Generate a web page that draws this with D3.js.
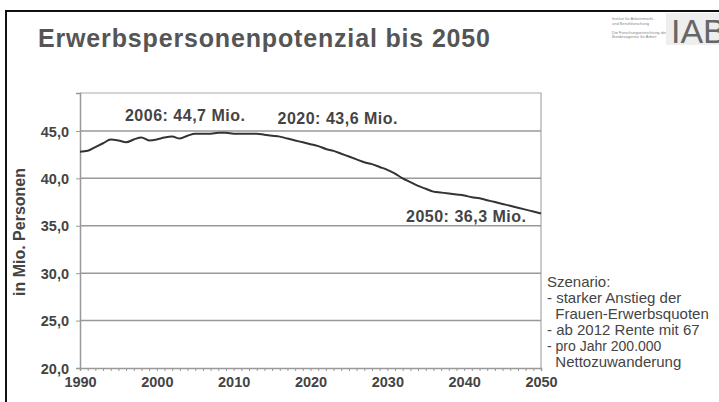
<!DOCTYPE html>
<html>
<head>
<meta charset="utf-8">
<script src="https://cdn.jsdelivr.net/npm/d3@7"></script>
<style>
  body { margin: 0; background: #fff; }
  svg { display: block; font-family: "Liberation Sans", Arial, sans-serif; }
</style>
</head>
<body>
<div id="chart"></div>
<script>
const years = d3.range(1990, 2051);
const values = [
  42.8, 42.9, 43.3, 43.7, 44.1, 44.0, 43.8, 44.1, 44.3, 44.0,
  44.1, 44.3, 44.4, 44.2, 44.5, 44.7, 44.7, 44.7, 44.8, 44.8,
  44.7, 44.7, 44.7, 44.7, 44.6, 44.5, 44.4, 44.2, 44.0, 43.8,
  43.6, 43.4, 43.1, 42.9, 42.6, 42.3, 42.0, 41.7, 41.5, 41.2,
  40.9, 40.5, 40.0, 39.6, 39.2, 38.9, 38.6, 38.5, 38.4, 38.3,
  38.2, 38.0, 37.9, 37.7, 37.5, 37.3, 37.1, 36.9, 36.7, 36.5,
  36.3
];
const yTicks = [20, 25, 30, 35, 40, 45];
const xTicks = [1990, 2000, 2010, 2020, 2030, 2040, 2050];
const notes = [
  { year: 2006, label: '2006: 44,7 Mio.' },
  { year: 2020, label: '2020: 43,6 Mio.' },
  { year: 2050, label: '2050: 36,3 Mio.' }
];
const scenario = [
  'Szenario:',
  '- starker Anstieg der',
  '  Frauen-Erwerbsquoten',
  '- ab 2012 Rente mit 67',
  '- pro Jahr 200.000',
  '  Nettozuwanderung'
];

const W = 719, H = 402;
const plot = { left: 80, right: 541, top: 93, bottom: 368 };

const svg = d3.select('#chart').append('svg')
  .attr('width', W)
  .attr('height', H);

// slide frame
svg.append('path')
  .attr('d', `M6,${H} V11 H${W}`)
  .attr('fill', 'none')
  .attr('stroke', '#111')
  .attr('stroke-width', 2);

svg.append('text')
  .attr('x', 38).attr('y', 47)
  .attr('font-size', 25).attr('font-weight', 'bold')
  .attr('fill', '#555')
  .attr('textLength', 452)
  .text('Erwerbspersonenpotenzial bis 2050');

// logo
const logo = svg.append('g').attr('fill', '#888');
['Institut für Arbeitsmarkt-', 'und Berufsforschung', '', 'Die Forschungseinrichtung der', 'Bundesagentur für Arbeit']
  .forEach((t, i) => logo.append('text')
    .attr('x', 612).attr('y', 20 + i * 4.5)
    .attr('font-size', 4).text(t));
svg.append('rect').attr('x', 666).attr('y', 13).attr('width', 53).attr('height', 32).attr('fill', '#eee');
svg.append('text')
  .attr('x', 671).attr('y', 43)
  .attr('font-size', 34).attr('fill', '#666')
  .text('IAB');

const x = d3.scaleLinear().domain([1990, 2050]).range([plot.left, plot.right]);
const y = d3.scaleLinear().domain([20, 49]).range([plot.bottom, plot.top]);
const fmt = d => d.toFixed(1).replace('.', ',');

// plot box
svg.append('path')
  .attr('d', `M${plot.left},${plot.top} H${plot.right} V${plot.bottom}`)
  .attr('fill', 'none').attr('stroke', '#aaa').attr('stroke-width', 1.2);

// gridlines
svg.append('g')
  .selectAll('line')
  .data(yTicks.slice(1))
  .join('line')
  .attr('x1', plot.left).attr('x2', plot.right)
  .attr('y1', d => y(d)).attr('y2', d => y(d))
  .attr('stroke', '#999').attr('stroke-width', 1.5);

const yAxis = svg.append('g')
  .attr('transform', `translate(${plot.left},0)`)
  .call(d3.axisLeft(y).tickValues(yTicks).tickFormat(fmt).tickSize(4).tickPadding(7));
const xAxis = svg.append('g')
  .attr('transform', `translate(0,${plot.bottom})`)
  .call(d3.axisBottom(x).tickValues(years).tickFormat(d => xTicks.includes(d) ? d : '').tickSize(3).tickPadding(6));

[yAxis, xAxis].forEach(a => {
  a.select('.domain').attr('stroke', '#999').attr('stroke-width', 1.5);
  a.selectAll('.tick line').attr('stroke', '#999');
  a.selectAll('text')
    .attr('font-family', '"Liberation Sans", Arial, sans-serif')
    .attr('font-size', 14.5).attr('font-weight', 'bold').attr('fill', '#444');
});
yAxis.selectAll('text').attr('dy', '0.35em');

svg.append('text')
  .attr('transform', 'translate(25,232) rotate(-90)')
  .attr('text-anchor', 'middle')
  .attr('font-size', 16).attr('font-weight', 'bold').attr('fill', '#444')
  .text('in Mio. Personen');

const line = d3.line()
  .x((d, i) => x(years[i]))
  .y(d => y(d))
  .curve(d3.curveMonotoneX);

svg.append('path')
  .datum(values)
  .attr('d', line)
  .attr('fill', 'none')
  .attr('stroke', '#333')
  .attr('stroke-width', 2);

// annotations
const notePos = [
  { dx: -18, anchor: 'middle', yv: 46.05 },
  { dx: 27, anchor: 'middle', yv: 45.75 },
  { dx: -15, anchor: 'end', yv: 35.35 }
];
svg.append('g')
  .selectAll('text')
  .data(notes)
  .join('text')
  .attr('x', (d, i) => x(d.year) + notePos[i].dx)
  .attr('y', (d, i) => y(notePos[i].yv))
  .attr('text-anchor', (d, i) => notePos[i].anchor)
  .attr('font-size', 16).attr('font-weight', 'bold').attr('fill', '#444')
  .attr('textLength', 120)
  .text(d => d.label);

svg.append('g')
  .selectAll('text')
  .data(scenario)
  .join('text')
  .attr('x', 547)
  .attr('y', (d, i) => 287 + i * 16)
  .attr('font-size', (d, i) => i === 4 ? 14 : 15)
  .attr('fill', '#444')
  .attr('xml:space', 'preserve')
  .style('white-space', 'pre')
  .text(d => d);
</script>
</body>
</html>
